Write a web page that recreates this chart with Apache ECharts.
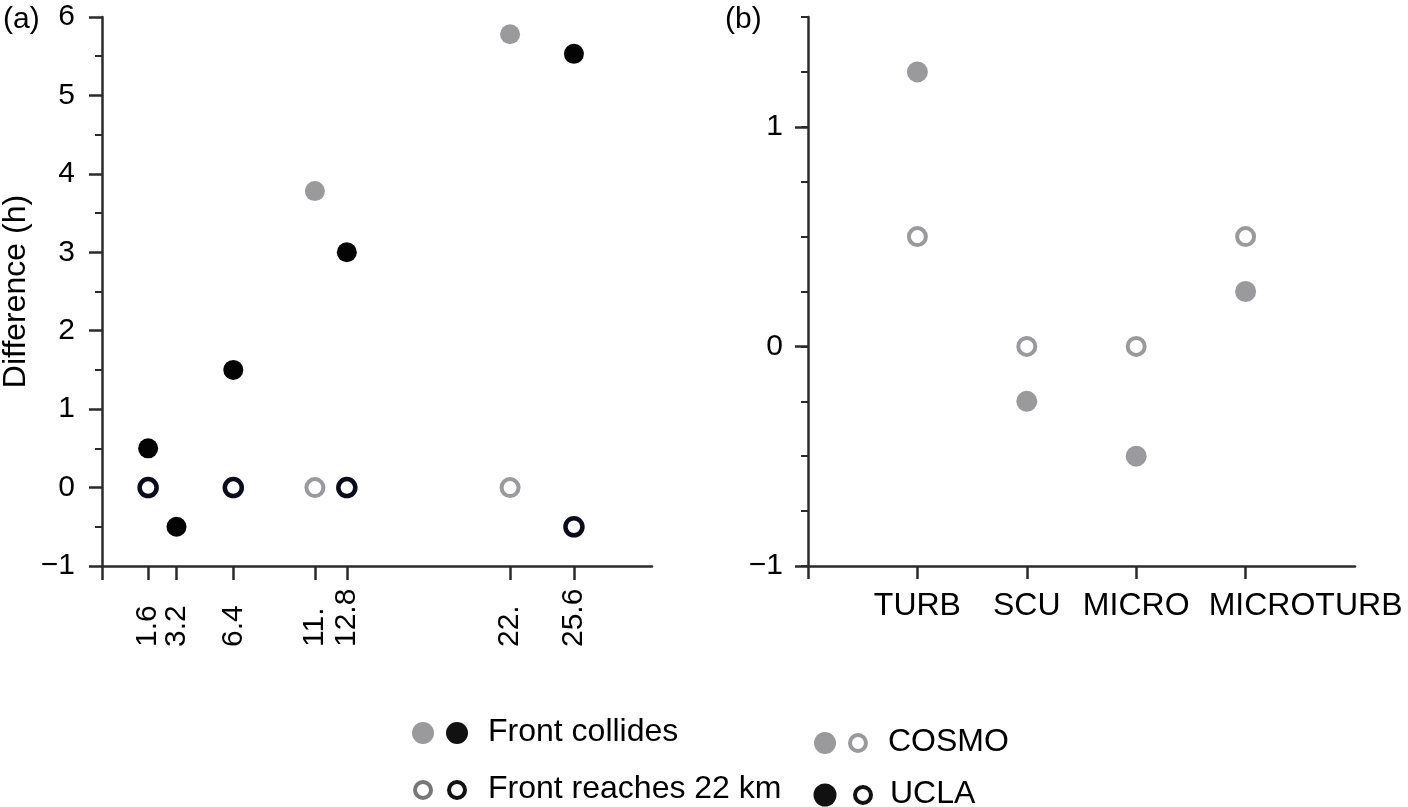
<!DOCTYPE html>
<html>
<head>
<meta charset="utf-8">
<script src="https://cdn.jsdelivr.net/npm/echarts@6.0.0/dist/echarts.min.js"></script>
<style>
  html, body { margin: 0; padding: 0; background: #fff; }
  #main { width: 1408px; height: 807px; }
</style>
</head>
<body>
<div id="main"></div>
<script>
// panel (a): resolution ticks
var resTicks = [1.6, 3.2, 6.4, 11, 12.8, 22, 25.6];
var resTickText = ['1.6', '3.2', '6.4', '11.', '12.8', '22.', '25.6'];
var yTicksA = [-1, 0, 1, 2, 3, 4, 5, 6];

// COSMO runs
var cosmoRes = [11, 22];
var cosmoCollide = [3.78, 5.78];
var cosmoReach = [0, 0];

// UCLA runs
var uclaRes = [1.6, 3.2, 6.4, 12.8, 25.6];
var uclaCollide = [0.5, -0.5, 1.5, 3.0, 5.53];
var uclaReach = [0, null, 0, 0, -0.5];

// panel (b): schemes (COSMO)
var schemes = ['TURB', 'SCU', 'MICRO', 'MICROTURB'];
var schemeCollide = [1.25, -0.25, -0.5, 0.25];
var schemeReach = [0.5, 0, 0, 0.5];
var yTicksB = [-1, 0, 1];

var FONT = '"Liberation Sans", Arial, Helvetica, sans-serif';
var AXIS = '#2b2b2b';
var GREY = '#9a9a9c';
var BLACK = '#030303';
var NAVY = '#0b0b1c';

function pairs(xs, ys) {
    var out = [];
    for (var i = 0; i < xs.length; i++) {
        if (ys[i] !== null) out.push([xs[i], ys[i]]);
    }
    return out;
}
function minus(v) {
    return String(v).replace('-', '\u2212');
}
// neighbouring labels sit on two stacked axes, otherwise echarts drops the ones that touch
var resEven = resTicks.filter(function (v, i) { return i % 2 === 0; });
var resOdd = resTicks.filter(function (v, i) { return i % 2 === 1; });

function resLabel(v) {
    var i = resTicks.indexOf(v);
    return i >= 0 ? resTickText[i] : '';
}
function schemeLabel(v) {
    return schemes[v - 1] || '';
}

var axisLine = { show: true, onZero: false, lineStyle: { color: AXIS, width: 2.5 } };
var noLine = { show: false, onZero: false };

var resLabelStyle = {
    showMinLabel: true,
    showMaxLabel: true,
    hideOverlap: false,
    rotate: 90,
    align: 'left',
    verticalAlign: 'middle',
    margin: 81,
    fontSize: 30,
    color: '#000',
    fontFamily: FONT,
    formatter: resLabel
};

var myChart = echarts.init(document.getElementById('main'));

option = {
    animation: false,
    backgroundColor: '#fff',
    textStyle: { fontFamily: FONT },
    grid: [
        { left: 102, top: 17, width: 550, height: 549, outerBoundsMode: 'none' },
        { left: 808, top: 17, width: 547, height: 549, outerBoundsMode: 'none' }
    ],
    xAxis: [{
        gridIndex: 0,
        type: 'value',
        position: 'bottom',
        min: -1,
        max: 30,
        axisLine: axisLine,
        splitLine: { show: false },
        axisTick: {
            show: true, length: 14, customValues: [-1].concat(resTicks),
            lineStyle: { color: AXIS, width: 2.5 }
        },
        axisLabel: Object.assign({ customValues: resEven }, resLabelStyle)
    }, {
        gridIndex: 1,
        type: 'value',
        position: 'bottom',
        min: 0,
        max: 5,
        axisLine: axisLine,
        splitLine: { show: false },
        axisTick: {
            show: true, length: 13, customValues: [0, 1, 2, 3, 4],
            lineStyle: { color: AXIS, width: 2.5 }
        },
        axisLabel: {
            customValues: [1, 2, 3],
            showMinLabel: true,
            showMaxLabel: true,
            hideOverlap: false,
            margin: 24,
            fontSize: 32,
            color: '#000',
            fontFamily: FONT,
            formatter: schemeLabel
        }
    }, {
        gridIndex: 0,
        type: 'value',
        position: 'bottom',
        offset: 0,
        min: -1,
        max: 30,
        axisLine: noLine,
        axisTick: { show: false },
        splitLine: { show: false },
        axisLabel: Object.assign({ customValues: resOdd }, resLabelStyle)
    }, {
        gridIndex: 1,
        type: 'value',
        position: 'bottom',
        offset: 0,
        min: 0,
        max: 5,
        axisLine: noLine,
        axisTick: { show: false },
        splitLine: { show: false },
        axisLabel: {
            customValues: [4],
            showMinLabel: true,
            showMaxLabel: true,
            hideOverlap: false,
            margin: 24,
            padding: [0, 0, 0, 120],
            fontSize: 32,
            color: '#000',
            fontFamily: FONT,
            formatter: schemeLabel
        }
    }],
    yAxis: [{
        gridIndex: 0,
        type: 'value',
        position: 'left',
        min: -1,
        max: 6,
        interval: 1,
        name: 'Difference (h)',
        nameLocation: 'middle',
        nameGap: 70,
        nameTextStyle: { fontSize: 32, color: '#000', fontFamily: FONT },
        axisLine: axisLine,
        splitLine: { show: false },
        axisTick: { show: true, length: 13, lineStyle: { color: AXIS, width: 2.5 } },
        minorTick: { show: true, splitNumber: 2, length: 7, lineStyle: { color: AXIS, width: 2 } },
        minorSplitLine: { show: false },
        axisLabel: {
            customValues: yTicksA,
            showMinLabel: true,
            showMaxLabel: true,
            margin: 27,
            fontSize: 30,
            color: '#000',
            fontFamily: FONT,
            formatter: minus
        }
    }, {
        gridIndex: 1,
        type: 'value',
        position: 'left',
        min: -1,
        max: 1.5,
        interval: 0.25,
        axisLine: axisLine,
        splitLine: { show: false },
        axisTick: { show: true, length: 7, lineStyle: { color: AXIS, width: 2 } },
        axisLabel: {
            customValues: yTicksB,
            showMinLabel: true,
            margin: 25,
            fontSize: 30,
            color: '#000',
            fontFamily: FONT,
            formatter: minus
        }
    }, {
        // long ticks at whole hours on panel (b)
        gridIndex: 1,
        type: 'value',
        position: 'left',
        offset: 0,
        min: -1,
        max: 1.5,
        interval: 0.25,
        axisLine: noLine,
        splitLine: { show: false },
        axisLabel: { show: false },
        axisTick: {
            show: true, length: 13, customValues: yTicksB,
            lineStyle: { color: AXIS, width: 2.5 }
        }
    }],
    title: [
        { text: '(a)', left: -2, top: 0, textStyle: { fontSize: 30, fontWeight: 'normal', color: '#000', fontFamily: FONT } },
        { text: '(b)', left: 720, top: 0, textStyle: { fontSize: 30, fontWeight: 'normal', color: '#000', fontFamily: FONT } }
    ],
    series: [{
        name: 'COSMO collides',
        type: 'scatter',
        xAxisIndex: 0, yAxisIndex: 0,
        symbolSize: 20,
        itemStyle: { color: GREY, opacity: 1 },
        data: pairs(cosmoRes, cosmoCollide)
    }, {
        name: 'UCLA collides',
        type: 'scatter',
        xAxisIndex: 0, yAxisIndex: 0,
        symbolSize: 20,
        itemStyle: { color: BLACK, opacity: 1 },
        data: pairs(uclaRes, uclaCollide)
    }, {
        name: 'COSMO reaches',
        type: 'scatter',
        xAxisIndex: 0, yAxisIndex: 0,
        symbolSize: 17,
        itemStyle: { color: '#fff', borderColor: GREY, borderWidth: 4, opacity: 1 },
        data: pairs(cosmoRes, cosmoReach)
    }, {
        name: 'UCLA reaches',
        type: 'scatter',
        xAxisIndex: 0, yAxisIndex: 0,
        symbolSize: 17,
        itemStyle: { color: '#fff', borderColor: NAVY, borderWidth: 4.5, opacity: 1 },
        data: pairs(uclaRes, uclaReach)
    }, {
        name: 'scheme collides',
        type: 'scatter',
        xAxisIndex: 1, yAxisIndex: 1,
        symbolSize: 21,
        itemStyle: { color: GREY, opacity: 1 },
        data: schemeCollide.map(function (v, i) { return [i + 1, v]; })
    }, {
        name: 'scheme reaches',
        type: 'scatter',
        xAxisIndex: 1, yAxisIndex: 1,
        symbolSize: 17,
        itemStyle: { color: '#fff', borderColor: GREY, borderWidth: 4, opacity: 1 },
        data: schemeReach.map(function (v, i) { return [i + 1, v]; })
    }],
    // hand-made key, two markers per row
    graphic: [
        { type: 'circle', shape: { cx: 423, cy: 733, r: 11 }, style: { fill: GREY } },
        { type: 'circle', shape: { cx: 457, cy: 733, r: 11 }, style: { fill: '#111' } },
        { type: 'text', left: 488, top: 716, style: { text: 'Front collides', font: '32px ' + FONT, fill: '#000' } },
        { type: 'circle', shape: { cx: 423, cy: 790, r: 8 }, style: { fill: '#fff', stroke: '#777', lineWidth: 4 } },
        { type: 'circle', shape: { cx: 457, cy: 790, r: 8 }, style: { fill: '#fff', stroke: '#111', lineWidth: 4 } },
        { type: 'text', left: 488, top: 773, style: { text: 'Front reaches 22 km', font: '32px ' + FONT, fill: '#000' } },
        { type: 'circle', shape: { cx: 825, cy: 743, r: 11 }, style: { fill: GREY } },
        { type: 'circle', shape: { cx: 858, cy: 743, r: 8 }, style: { fill: '#fff', stroke: GREY, lineWidth: 4 } },
        { type: 'text', left: 888, top: 726, style: { text: 'COSMO', font: '32px ' + FONT, fill: '#000' } },
        { type: 'circle', shape: { cx: 825, cy: 795, r: 11.5 }, style: { fill: '#111' } },
        { type: 'circle', shape: { cx: 863, cy: 795, r: 8 }, style: { fill: '#fff', stroke: '#111', lineWidth: 4 } },
        { type: 'text', left: 890, top: 778, style: { text: 'UCLA', font: '32px ' + FONT, fill: '#000' } }
    ]
};

myChart.setOption(option);
</script>
</body>
</html>
